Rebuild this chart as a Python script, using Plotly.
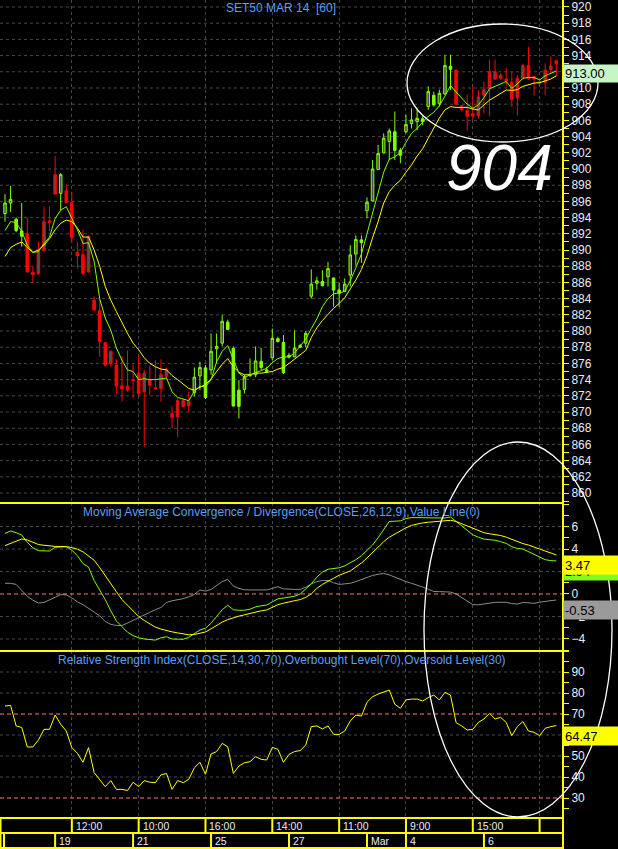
import plotly.graph_objects as go

# ---------------- data ----------------
trade_days = ["2014-02-17", "2014-02-18", "2014-02-19", "2014-02-20", "2014-02-21",
              "2014-02-24", "2014-02-25", "2014-02-26", "2014-02-27", "2014-02-28",
              "2014-03-03", "2014-03-04", "2014-03-05", "2014-03-06", "2014-03-07"]
session_hours = ["09:00", "10:00", "11:00", "12:00", "14:00", "15:00", "16:00"]
first_bar = 5  # chart window starts at the 6th session bar of the first day

opens = [894.5, 895.8, 892.4, 891.7, 892.0, 887.25, 889.8, 893.5, 893.6, 899.3,
         897.0, 897.3, 895.85, 889.7, 889.4, 891.7, 883.8, 882.5, 878.55, 877.5,
         875.8, 873.25, 873.2, 874.0, 874.8, 874.8, 873.95, 873.0, 874.6, 875.3,
         869.8, 871.4, 871.4, 871.3, 872.4, 874.45, 871.8, 875.2, 877.8, 878.5,
         880.2, 870.75, 870.7, 872.8, 874.5, 874.6, 875.5, 875.0, 876.7, 878.7,
         874.85, 876.8, 876.8, 878.0, 878.5, 884.3, 885.9, 885.6, 886.7, 885.05,
         884.65, 884.9, 886.9, 889.5, 890.9, 894.85, 896.05, 899.95, 902.0, 903.4,
         902.3, 901.7, 904.6, 905.6, 905.85, 905.85, 907.7, 907.9, 908.1, 909.26,
         912.3, 912.2, 907.8, 907.2, 906.8, 908.9, 909.8, 912.0, 912.0, 911.6,
         911.1, 910.7, 911.2, 912.8, 912.8, 911.4, 910.8, 912.2, 912.7, 913.35]
highs = [896.9, 897.9, 894.0, 895.8, 894.0, 888.0, 891.1, 895.35, 895.35, 901.6,
         899.5, 898.1, 897.2, 891.0, 892.5, 891.8, 884.25, 883.9, 878.6, 877.6,
         876.5, 876.9, 877.6, 875.9, 877.0, 875.2, 875.7, 876.4, 876.5, 875.5,
         870.7, 871.7, 871.7, 872.5, 875.5, 876.2, 875.8, 879.7, 879.7, 882.0,
         881.4, 878.1, 873.95, 874.6, 876.6, 878.1, 877.9, 875.6, 880.3, 879.3,
         879.5, 877.3, 880.1, 878.4, 880.0, 887.6, 886.7, 887.5, 888.5, 886.6,
         885.9, 886.5, 890.6, 891.8, 891.8, 896.5, 901.1, 902.96, 904.4, 905.0,
         907.1, 902.6, 906.7, 907.5, 907.5, 906.7, 910.2, 909.55, 909.8, 914.1,
         914.1, 912.3, 907.9, 909.14, 910.17, 909.76, 910.8, 913.5, 913.5, 911.8,
         912.5, 912.0, 911.6, 913.0, 915.1, 911.5, 911.0, 913.05, 913.9, 913.5]
lows = [893.5, 894.7, 892.2, 890.4, 887.2, 885.9, 886.9, 889.9, 892.3, 896.9,
        894.9, 895.8, 890.9, 887.7, 886.9, 887.2, 882.5, 876.8, 875.6, 875.6,
        872.3, 871.3, 872.5, 871.7, 872.0, 865.7, 872.1, 872.8, 871.3, 873.95,
        868.0, 866.9, 870.6, 870.0, 871.9, 872.7, 871.6, 874.6, 876.0, 878.1,
        880.1, 870.65, 869.2, 872.3, 874.3, 874.3, 875.2, 874.8, 876.4, 878.6,
        874.7, 876.6, 876.8, 877.9, 878.0, 884.0, 885.1, 885.5, 885.5, 883.0,
        883.0, 884.8, 885.5, 888.1, 888.4, 893.9, 896.0, 899.9, 901.9, 901.1,
        901.1, 900.7, 904.4, 905.0, 904.8, 905.4, 907.3, 907.7, 907.7, 909.14,
        909.76, 907.9, 907.1, 904.74, 906.05, 906.26, 906.9, 906.5, 911.0, 911.0,
        910.2, 907.7, 906.6, 911.0, 911.0, 909.1, 910.2, 909.14, 911.8, 911.4]
closes = [895.8, 896.25, 893.8, 892.35, 887.3, 886.95, 887.1, 889.9, 893.4, 896.9,
          899.3, 895.85, 891.5, 889.3, 887.1, 887.3, 882.6, 878.7, 875.8, 876.0,
          873.2, 872.85, 872.7, 873.9, 872.3, 872.5, 873.3, 872.85, 872.9, 874.4,
          869.35, 869.4, 870.7, 870.8, 874.3, 875.5, 875.45, 877.5, 878.1, 881.2,
          881.1, 877.85, 872.7, 874.3, 874.65, 876.3, 876.25, 875.2, 879.1, 879.05,
          878.6, 877.0, 877.9, 878.2, 879.7, 885.8, 886.2, 886.1, 887.7, 886.55,
          885.05, 885.8, 889.4, 891.3, 891.25, 895.9, 900.0, 901.9, 903.8, 904.7,
          904.6, 902.3, 905.5, 906.05, 906.25, 906.2, 909.55, 909.1, 909.35, 912.76,
          912.7, 908.0, 907.3, 906.5, 906.55, 906.6, 909.1, 910.0, 911.1, 911.2,
          910.9, 908.6, 908.8, 911.2, 911.15, 911.1, 910.6, 910.7, 912.3, 913.0]

ma_fast = [892.4, 893.5, 893.4, 892.3, 890.6, 889.7, 889.8, 890.8, 891.6, 893.9,
           894.9, 895.35, 893.9, 892.5, 890.8, 890.9, 888.6, 884.0, 881.6, 880.1,
           877.9, 876.4, 875.2, 875.0, 874.0, 874.1, 874.0, 874.0, 874.1, 874.2,
           872.5, 871.8, 871.6, 871.4, 872.6, 873.2, 873.1, 874.0, 876.2, 877.5,
           878.2, 876.4, 874.8, 874.3, 874.6, 874.9, 875.2, 875.4, 876.1, 876.6,
           876.8, 876.8, 877.3, 878.1, 879.0, 880.3, 881.5, 883.0, 884.0, 884.6,
           884.7, 884.9, 886.2, 887.8, 889.5, 892.0, 894.5, 897.0, 899.6, 901.2,
           901.5, 902.0, 903.3, 904.4, 905.0, 905.8, 906.5, 907.0, 907.8, 909.0,
           910.3, 909.5, 908.7, 908.0, 907.5, 907.9, 908.8, 909.9, 910.2, 910.5,
           910.8, 909.95, 910.5, 911.2, 911.3, 911.3, 911.0, 911.5, 911.8, 912.1]
ma_slow = [889.2, 890.3, 890.7, 891.0, 890.3, 889.7, 890.0, 890.6, 891.4, 892.5,
           893.3, 893.7, 893.5, 892.7, 891.6, 891.6, 890.0, 888.0, 885.5, 883.8,
           882.4, 881.0, 879.7, 878.5, 877.7, 876.7, 876.0, 875.6, 875.3, 875.2,
           874.5, 874.0, 873.4, 872.9, 872.7, 873.0, 873.4, 874.1, 875.0, 875.9,
           876.6, 875.6, 874.9, 874.6, 874.6, 874.8, 874.8, 874.9, 875.0, 875.3,
           875.5, 876.0, 876.5, 877.0, 877.6, 879.2, 880.4, 881.3, 882.1, 882.8,
           883.4, 884.1, 885.2, 886.3, 887.6, 889.3, 891.5, 893.5, 895.8, 897.2,
           898.0, 898.6, 899.6, 900.5, 901.6, 902.5, 903.8, 905.0, 906.3, 907.3,
           907.7, 907.6, 907.6, 907.6, 907.4, 907.3, 907.9, 908.5, 908.9, 909.3,
           909.75, 909.7, 909.8, 910.2, 910.4, 910.6, 910.65, 910.9, 911.1, 911.5]

macd_line = [5.39, 5.6, 5.45, 5.24, 4.6, 4.1, 3.85, 3.82, 3.82, 4.15,
             4.21, 4.21, 3.9, 3.4, 2.7, 2.4, 1.2, 0.4, -0.5, -1.5,
             -2.4, -2.9, -3.4, -3.7, -3.9, -4.0, -4.05, -4.1, -3.9, -3.8,
             -4.0, -4.03, -4.03, -3.85, -3.5, -3.2, -3.05, -2.6, -2.0, -1.4,
             -1.0, -1.4, -1.45, -1.45, -1.35, -1.15, -1.05, -0.98, -0.7, -0.43,
             -0.36, -0.3, -0.2, 0.0, 0.45, 0.9, 1.5, 1.95, 2.2, 2.25,
             2.33, 2.5, 2.75, 3.05, 3.4, 3.85, 4.35, 5.0, 5.75, 6.45,
             6.47, 6.5, 6.7, 6.79, 6.79, 6.79, 6.79, 6.78, 6.75, 6.75,
             6.85, 6.45, 6.05, 5.68, 5.26, 5.05, 4.88, 4.83, 4.78, 4.65,
             4.5, 4.2, 4.05, 4.0, 3.75, 3.5, 3.25, 3.05, 2.97, 2.94]
macd_signal = [4.3, 4.5, 4.75, 4.89, 4.8, 4.6, 4.4, 4.33, 4.27, 4.23,
               4.22, 4.21, 4.12, 3.98, 3.75, 3.4, 3.0, 2.35, 1.6, 0.9,
               0.2, -0.5, -1.0, -1.55, -2.0, -2.35, -2.65, -2.95, -3.12, -3.26,
               -3.37, -3.46, -3.57, -3.63, -3.6, -3.52, -3.38, -3.1, -2.78, -2.5,
               -2.28, -2.1, -1.97, -1.85, -1.72, -1.6, -1.5, -1.42, -1.2, -0.95,
               -0.82, -0.68, -0.6, -0.5, -0.3, 0.0, 0.5, 0.85, 1.15, 1.4,
               1.66, 1.86, 2.05, 2.4, 2.75, 3.2, 3.7, 4.2, 4.65, 5.05,
               5.35, 5.6, 5.88, 6.1, 6.22, 6.32, 6.38, 6.43, 6.5, 6.56,
               6.55, 6.45, 6.25, 6.08, 5.86, 5.65, 5.45, 5.35, 5.28, 5.2,
               5.05, 4.85, 4.65, 4.48, 4.35, 4.2, 4.0, 3.82, 3.65, 3.47]
macd_diff = [0.95, 0.95, 0.85, 0.35, -0.2, -0.55, -0.8, -0.75, -0.55, -0.3,
             -0.05, -0.08, -0.35, -0.7, -0.95, -1.25, -1.6, -1.95, -2.45, -2.7,
             -2.8, -2.8, -2.6, -2.35, -2.1, -1.85, -1.6, -1.4, -1.2, -0.75,
             -0.6, -0.5, -0.42, -0.25, -0.05, 0.36, 0.25, 0.4, 0.75, 1.1,
             1.3, 0.7, 0.5, 0.38, 0.36, 0.36, 0.36, 0.36, 0.5, 0.65,
             0.45, 0.41, 0.41, 0.41, 0.6, 0.9, 1.1, 1.2, 1.2, 1.0,
             0.85, 0.9, 0.95, 1.1, 1.3, 1.5, 1.65, 1.75, 1.83, 1.7,
             1.5, 1.25, 1.1, 0.95, 0.8, 0.62, 0.42, 0.22, 0.21, 0.21,
             0.17, 0.0, -0.3, -0.6, -0.95, -0.96, -0.92, -0.82, -0.74, -0.74,
             -0.74, -0.85, -0.9, -0.75, -0.78, -0.83, -0.73, -0.66, -0.6, -0.53]
rsi = [73.8, 74.1, 64.3, 63.6, 54.3, 54.3, 57.6, 62.7, 62.7, 69.5,
       65.1, 61.9, 54.0, 51.3, 47.0, 54.0, 42.1, 38.6, 35.4, 38.3,
       34.1, 34.1, 33.6, 37.5, 35.4, 38.3, 37.5, 37.3, 41.0, 41.7,
       34.1, 38.3, 37.3, 38.9, 44.4, 47.0, 41.3, 51.0, 52.1, 56.0,
       54.4, 41.7, 45.2, 46.8, 47.3, 49.7, 48.4, 48.1, 54.1, 53.2,
       47.0, 50.8, 52.1, 52.6, 55.2, 64.0, 64.3, 62.9, 64.3, 60.3,
       60.3, 61.9, 66.7, 69.5, 69.0, 75.6, 78.2, 79.5, 80.6, 81.4,
       74.6, 72.7, 76.7, 77.1, 77.1, 76.2, 77.8, 79.0, 76.7, 80.3,
       79.0, 65.9, 64.3, 62.4, 62.7, 66.0, 67.6, 70.3, 67.6, 68.4,
       66.0, 59.7, 64.0, 66.4, 61.9, 61.3, 59.7, 63.2, 64.0, 64.47]

macd_value_line = 0
rsi_levels = [70, 30]
hour_tick_every = 12
day_label_dates = ["2014-02-19", "2014-02-21", "2014-02-25", "2014-02-27",
                   "2014-03-03", "2014-03-04", "2014-03-06"]
day_label_texts = ["19", "21", "25", "27", "Mar", "4", "6"]
chart_title = "SET50 MAR 14  [60]"
macd_title = "Moving Average Convergence / Divergence(CLOSE,26,12,9),Value Line(0)"
rsi_title = "Relative Strength Index(CLOSE,14,30,70),Overbought Level(70),Oversold Level(30)"
note_text = "904"

# ---------------- derived ----------------
bar_times = [f"{d} {h}" for d in trade_days for h in session_hours][first_bar:]
N = len(bar_times)
xs = list(range(N))

# ---------------- geometry / styling ----------------
W, H = 618, 849
MR, MB = 55, 31
PW, PH = W - MR, H - MB


def py(p):
    return 1 - p / PH


def pxx(p):
    return p / PW


BG = "#000000"
GREEN = "#80ff00"
RED = "#ff0000"
HOLLOW = "#505050"
YELLOW = "#ffff00"
GRAYL = "#8c8c8c"
GRID = "#484848"
BLUE = "#5c9ef2"
LEVEL = "#ff7878"
TXT = "#e8eef8"
FONT = "Liberation Sans, Arial, sans-serif"

main_range = [858.77, 920.86]
macd_range = [-5.07, 8.09]
rsi_range = [20.48, 100]
main_px, macd_px, rsi_px = 503, 148, 167

fig = go.Figure()

# candles: colour by close vs open, hollow when close above previous close
groups = {}
for i in xs:
    up = closes[i] >= opens[i]
    prev = closes[i - 1] if i > 0 else opens[i]
    hollow = closes[i] > prev
    groups.setdefault((up, hollow), []).append(i)

for (up, hollow), idx in groups.items():
    col = GREEN if up else RED
    fill = HOLLOW if hollow else col
    sty = dict(line=dict(color=col, width=1), fillcolor=fill)
    fig.add_trace(go.Candlestick(
        x=idx, open=[opens[i] for i in idx], high=[highs[i] for i in idx],
        low=[lows[i] for i in idx], close=[closes[i] for i in idx],
        increasing=sty, decreasing=sty, whiskerwidth=0, showlegend=False,
        xaxis="x", yaxis="y", hoverinfo="skip"))

fig.add_trace(go.Scatter(x=xs, y=ma_slow, mode="lines", line=dict(color=YELLOW, width=1),
                         xaxis="x", yaxis="y", showlegend=False, hoverinfo="skip"))
fig.add_trace(go.Scatter(x=xs, y=ma_fast, mode="lines", line=dict(color=GREEN, width=1),
                         xaxis="x", yaxis="y", showlegend=False, hoverinfo="skip"))

fig.add_trace(go.Scatter(x=xs, y=macd_diff, mode="lines", line=dict(color=GRAYL, width=1),
                         xaxis="x", yaxis="y2", showlegend=False, hoverinfo="skip"))
fig.add_trace(go.Scatter(x=xs, y=macd_line, mode="lines", line=dict(color=GREEN, width=1),
                         xaxis="x", yaxis="y2", showlegend=False, hoverinfo="skip"))
fig.add_trace(go.Scatter(x=xs, y=macd_signal, mode="lines", line=dict(color=YELLOW, width=1),
                         xaxis="x", yaxis="y2", showlegend=False, hoverinfo="skip"))

fig.add_trace(go.Scatter(x=xs, y=rsi, mode="lines", line=dict(color=YELLOW, width=1),
                         xaxis="x", yaxis="y3", showlegend=False, hoverinfo="skip"))

hour_ticks = list(range(hour_tick_every, N, hour_tick_every))
day_starts = [bar_times.index(d + " " + session_hours[0]) for d in day_label_dates]

# last-value boxes: (axis, value, colour, height px) -- later ones drawn on top
boxes = [
    ("y", closes[-1], "#c8f5c8", 15),
    ("y2", macd_line[-1], "#80ff20", 16),
    ("y2", macd_signal[-1], YELLOW, 16),
    ("y2", macd_diff[-1], "#9a9a9a", 16),
    ("y3", rsi[-1], YELLOW, 16),
]
ax_scale = {"y": main_px / (main_range[1] - main_range[0]),
            "y2": macd_px / (macd_range[1] - macd_range[0]),
            "y3": rsi_px / (rsi_range[1] - rsi_range[0])}


def visible_ticks(ax, cands):
    """drop tick labels fully hidden behind a last-value box"""
    out = []
    for t in cands:
        hidden = False
        for a, v, _, h in boxes:
            if a != ax:
                continue
            off = (v - t) * ax_scale[ax]
            if 4 <= off <= h - 4:
                hidden = True
        if not hidden:
            out.append(t)
    return out


main_ticks = visible_ticks("y", list(range(860, 921, 2)))
macd_ticks = visible_ticks("y2", [-4, -2, 0, 2, 4, 6])
rsi_ticks = visible_ticks("y3", [30, 40, 50, 60, 70, 80, 90])

yax_common = dict(side="right", anchor="x", showgrid=False, zeroline=False, showline=False,
                  ticks="outside", ticklen=5, tickcolor=YELLOW, tickwidth=1,
                  tickfont=dict(family=FONT, size=12, color=TXT), fixedrange=True,
                  tickmode="array")

fig.update_layout(
    width=W, height=H, margin=dict(l=0, r=MR, t=0, b=MB),
    paper_bgcolor=BG, plot_bgcolor=BG, showlegend=False, boxgap=0.35,
    xaxis=dict(range=[-0.9, 100.2], anchor="y3", tickvals=hour_ticks, showticklabels=False,
               ticks="", showgrid=True, gridcolor=GRID, griddash="3px,3px", gridwidth=1,
               zeroline=False, showline=False, rangeslider=dict(visible=False), fixedrange=True),
    yaxis=dict(domain=[py(503), 1], range=main_range, tickvals=main_ticks,
               minor=dict(tickmode="linear", dtick=1, tick0=0, ticks="outside", ticklen=5,
                          tickcolor=YELLOW, showgrid=False),
               **yax_common),
    yaxis2=dict(domain=[py(651), py(503)], range=macd_range, tickvals=macd_ticks,
                minor=dict(tickmode="linear", dtick=1, tick0=0, ticks="outside", ticklen=5,
                           tickcolor=YELLOW, showgrid=False),
                **yax_common),
    yaxis3=dict(domain=[0, py(651)], range=rsi_range, tickvals=rsi_ticks,
                minor=dict(tickmode="linear", dtick=5, tick0=0, ticks="outside", ticklen=5,
                           tickcolor=YELLOW, showgrid=False),
                **yax_common),
)

shapes = []
ann = []

# horizontal grid lines (every 2 on price / MACD, every 10 on RSI)
grid_sets = [("y", list(range(860, 921, 2))), ("y2", [-4, -2, 2, 4, 6]),
             ("y3", [40, 50, 60, 80, 90])]
for yref, vals in grid_sets:
    for g in vals:
        shapes.append(dict(type="line", xref="x domain", x0=0, x1=1, yref=yref, y0=g, y1=g,
                           line=dict(color=GRID, width=1, dash="3px,3px"), layer="below"))

# level lines
shapes.append(dict(type="line", xref="x domain", x0=0, x1=1, yref="y2", y0=macd_value_line,
                   y1=macd_value_line, line=dict(color=LEVEL, width=1, dash="4px,3px")))
for lv in rsi_levels:
    shapes.append(dict(type="line", xref="x domain", x0=0, x1=1, yref="y3", y0=lv, y1=lv,
                       line=dict(color=LEVEL, width=1, dash="4px,3px")))

# panel separators and frame
for p in (503, 651, 818, 833, 848):
    shapes.append(dict(type="line", xref="paper", x0=0, x1=1, yref="paper", y0=py(p), y1=py(p),
                       line=dict(color=YELLOW, width=2), layer="above"))
shapes.append(dict(type="line", xref="paper", x0=1, x1=1, yref="paper", y0=py(849), y1=1,
                   line=dict(color=YELLOW, width=2), layer="above"))
shapes.append(dict(type="line", xref="paper", x0=pxx(0.5), x1=pxx(0.5), yref="paper",
                   y0=py(849), y1=py(818), line=dict(color=YELLOW, width=2), layer="above"))
shapes.append(dict(type="line", xref="paper", x0=pxx(4), x1=pxx(4), yref="paper",
                   y0=py(849), y1=py(833), line=dict(color=YELLOW, width=2), layer="above"))

# time rows
for b in hour_ticks:
    shapes.append(dict(type="line", xref="x", x0=b, x1=b, yref="paper", y0=py(833), y1=py(818),
                       line=dict(color=YELLOW, width=2), layer="above"))
    if b + 7 < N:
        ann.append(dict(x=b, xref="x", y=py(825.5), yref="paper", xanchor="left", xshift=2,
                        yanchor="middle", text=bar_times[b].split(" ")[1].lstrip("0"),
                        showarrow=False, font=dict(family=FONT, size=10.5, color=TXT)))
for b, t in zip(day_starts, day_label_texts):
    shapes.append(dict(type="line", xref="x", x0=b, x1=b, yref="paper", y0=py(848), y1=py(833),
                       line=dict(color=YELLOW, width=2), layer="above"))
    ann.append(dict(x=b, xref="x", y=py(841), yref="paper", xanchor="left", xshift=2,
                    yanchor="middle", text=t, showarrow=False,
                    font=dict(family=FONT, size=10.5, color=TXT)))

# last-value boxes as annotations with background (later ones cover earlier ones)
for yref, v, colr, hgt in boxes:
    ann.append(dict(x=1, xref="paper", xanchor="left", xshift=0, y=v, yref=yref,
                    yanchor="top", text=f"{v:.2f}", showarrow=False, align="left",
                    width=MR - 2, height=hgt, borderpad=1, bgcolor=colr,
                    font=dict(family=FONT, size=13, color="#000000")))

# ellipses
shapes.append(dict(type="circle", xref="paper", yref="paper", x0=pxx(407), x1=pxx(598),
                   y0=py(142), y1=py(24), line=dict(color="#ffffff", width=1.3), layer="above"))
shapes.append(dict(type="circle", xref="paper", yref="paper", x0=pxx(424), x1=pxx(612),
                   y0=py(817), y1=py(442), line=dict(color="#ffffff", width=1.3), layer="above"))

# titles
ann.append(dict(x=pxx(281), xref="paper", y=py(8), yref="paper", xanchor="center",
                yanchor="middle", text=chart_title, showarrow=False,
                font=dict(family=FONT, size=12, color=BLUE)))
ann.append(dict(x=pxx(281), xref="paper", y=py(512), yref="paper", xanchor="center",
                yanchor="middle", text=macd_title, showarrow=False,
                font=dict(family=FONT, size=12, color=BLUE)))
ann.append(dict(x=pxx(282), xref="paper", y=py(660), yref="paper", xanchor="center",
                yanchor="middle", text=rsi_title, showarrow=False,
                font=dict(family=FONT, size=12, color=BLUE)))
ann.append(dict(x=pxx(499), xref="paper", y=py(168), yref="paper", xanchor="center",
                yanchor="middle", text=note_text, showarrow=False,
                font=dict(family=FONT, size=64, color="#ffffff", style="italic")))

fig.update_layout(shapes=shapes, annotations=ann)
fig.write_html("out.html", config={"displayModeBar": False},
               post_script="document.body.style.margin='0px';document.body.style.overflow='hidden';")
